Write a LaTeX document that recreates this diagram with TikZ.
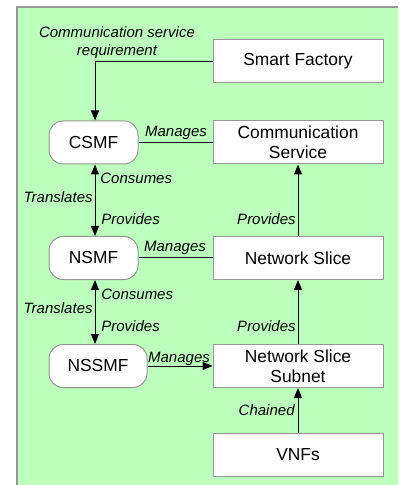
\documentclass[tikz,border=0pt]{standalone}
\usepackage{fontspec}
\setmainfont{Liberation Sans}
\usetikzlibrary{arrows.meta}
\definecolor{panelgreen}{RGB}{189,255,189}
\definecolor{edgegray}{RGB}{150,150,150}
\begin{document}
\begin{tikzpicture}[x=0.5pt,y=-0.5pt,
  box/.style={draw=edgegray,line width=0.5pt,fill=white,minimum width=85pt,
    minimum height=21.5pt,inner sep=0pt,align=center,
    font=\fontsize{8.7}{10}\selectfont},
  mgr/.style={box,rounded corners=7pt,minimum width=44.5pt},
  lbl/.style={font=\fontsize{7.5}{9}\selectfont\itshape,inner sep=0pt},
  link/.style={line width=0.5pt},
  arr/.style={link,-{Triangle[length=5pt,width=4pt]}},
  darr/.style={link,{Triangle[length=5pt,width=4pt]}-{Triangle[length=5pt,width=4pt]}}]

\useasboundingbox (0,0) rectangle (398,485);
% green panel, open to the right and bottom
\begin{scope}
  \clip (0,0) rectangle (398,485);
  \draw[edgegray,line width=1pt,fill=panelgreen] (16.5,7.5) rectangle (410,500);
\end{scope}

% managed objects
\node[box] (sf)  at (298,61.5) {Smart Factory};
\node[box] (cs)  at (298,142.5) {Communication\\Service};
\node[box] (ns)  at (298,258) {Network Slice};
\node[box] (nss) at (298,366) {Network Slice\\Subnet};
\node[box] (vnf) at (298,455) {VNFs};

% management functions
\node[mgr] (csmf) at (93.5,142.5) {CSMF};
\node[mgr] (nsmf) at (93.5,258) {NSMF};
\node[mgr,minimum width=49pt] (nssmf) at (98,366) {NSSMF};

% connectors
\coordinate (lane) at (95,0);
\coordinate (bend) at (sf.west -| lane);
\draw[arr] (sf.west) -- (bend) -- (csmf.north -| lane);
\draw[link] (csmf.east) -- (cs.west);
\draw[darr] (csmf.south -| lane) -- (nsmf.north -| lane);
\draw[darr] (nsmf.south -| lane) -- (nssmf.north -| lane);
\draw[link] (nsmf.east) -- (ns.west);
\draw[arr] (nssmf.east) -- (nss.west);
\draw[arr] (ns.north) -- (cs.south);
\draw[arr] (nss.north) -- (ns.south);
\draw[arr] (vnf.north) -- (nss.south);

% labels
\node[lbl,align=center] (req) at (117,43) {Communication service\\requirement};
\node[lbl] (m1) at (176,133) {Manages};
\node[lbl,anchor=west] (c1) at (100,178) {Consumes};
\node[lbl,anchor=east] (t1) at (93,197) {Translates};
\node[lbl,anchor=west] (p1) at (101,219) {Provides};
\node[lbl,anchor=east] (p2) at (296,219) {Provides};
\node[lbl] (m2) at (175,248) {Manages};
\node[lbl,anchor=west] (c2) at (101,294) {Consumes};
\node[lbl,anchor=east] (t2) at (93,308) {Translates};
\node[lbl,anchor=west] (p3) at (101,326) {Provides};
\node[lbl,anchor=east] (p4) at (296,326) {Provides};
\node[lbl] (m3) at (179,359) {Manages};
\node[lbl,anchor=east] (ch) at (295,410) {Chained};
\end{tikzpicture}
\end{document}
